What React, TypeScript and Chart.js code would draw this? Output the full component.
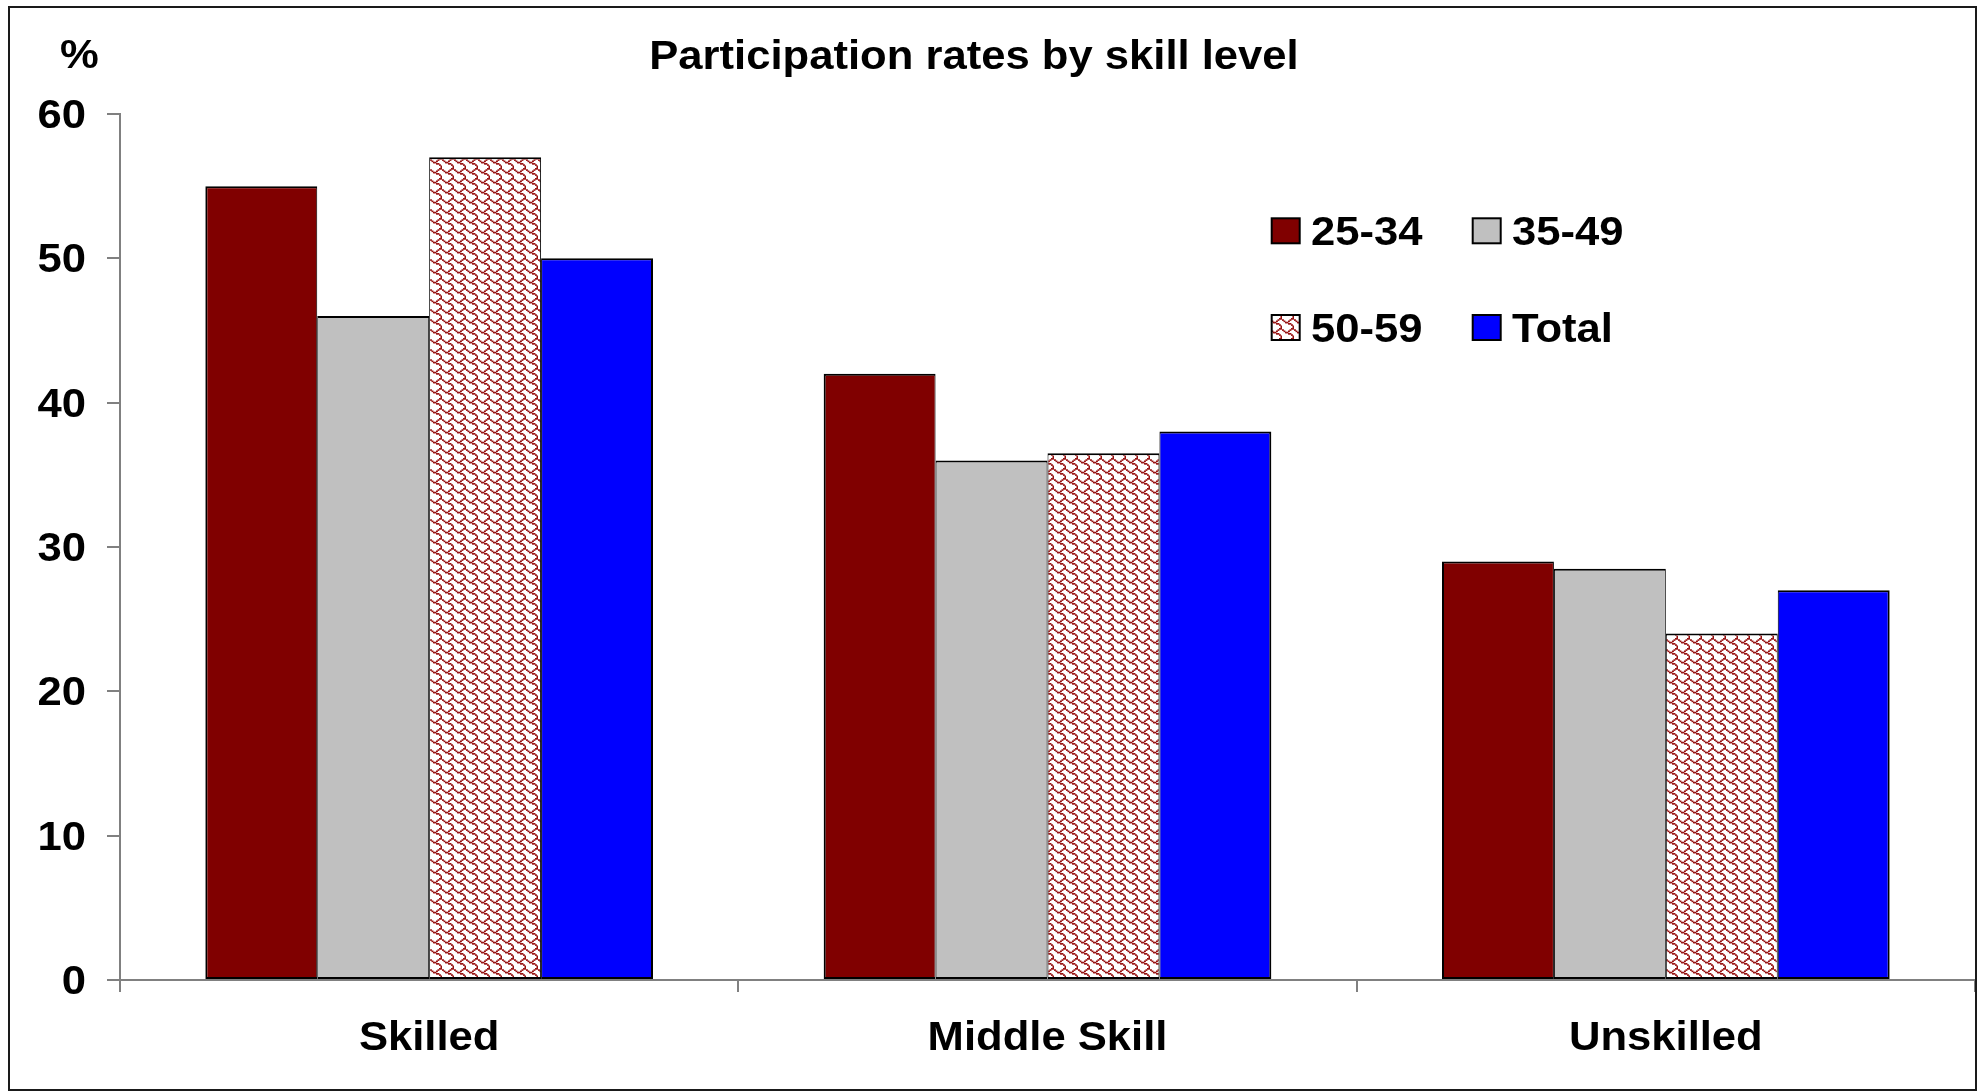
import React, { useEffect, useRef } from 'react';
import { Chart, registerables } from 'chart.js';

Chart.register(...registerables);

// ---- data ----
const categories = ['Skilled', 'Middle Skill', 'Unskilled'];
const seriesLabels = ['25-34', '35-49', '50-59', 'Total'];
const age25to34 = [55, 42, 29];
const age35to49 = [46, 36, 28.5];
const age50to59 = [57, 36.5, 24];
const totalAll = [50, 38, 27];
const yTickValues = [0, 10, 20, 30, 40, 50, 60];
const titleText = 'Participation rates by skill level';
const yUnitText = '%';

// ---- styles ----
const FONT = '"Liberation Sans", Arial, Helvetica, sans-serif';
const TEXT_FONT = `bold 40px ${FONT}`;
const TEXT_STRETCH = 1.09;
const SHINGLE_BITS = [0x03, 0x84, 0x48, 0x30, 0x0c, 0x02, 0x01, 0x01];

function makeShinglePattern(ctx: CanvasRenderingContext2D, color: string) {
  const sx = 1.5;
  const sy = 1.25;
  const c = document.createElement('canvas');
  c.width = 12;
  c.height = 10;
  const g = c.getContext('2d')!;
  g.fillStyle = '#ffffff';
  g.fillRect(0, 0, c.width, c.height);
  g.fillStyle = color;
  for (let y = 0; y < 8; y++) {
    for (let x = 0; x < 8; x++) {
      if (SHINGLE_BITS[y] & (0x80 >> x)) g.fillRect(x * sx, y * sy, sx + 0.4, sy + 0.4);
    }
  }
  return ctx.createPattern(c, 'repeat') as CanvasPattern;
}

function drawText(
  c: CanvasRenderingContext2D,
  text: string,
  x: number,
  y: number,
  align: CanvasTextAlign,
) {
  c.save();
  c.translate(x, y);
  c.scale(TEXT_STRETCH, 1);
  c.textAlign = align;
  c.textBaseline = 'alphabetic';
  c.fillText(text, 0, 0);
  c.restore();
}

export default function App() {
  const ref = useRef<HTMLCanvasElement>(null);

  useEffect(() => {
    const canvas = ref.current!;
    const ctx = canvas.getContext('2d')!;
    const pattern = makeShinglePattern(ctx, '#960f0f');

    const overlay = {
      id: 'overlay',
      afterDraw(chart: any) {
        const c = chart.ctx as CanvasRenderingContext2D;
        c.save();
        c.fillStyle = '#000';
        c.font = TEXT_FONT;
        // title and unit
        drawText(c, titleText, 964, 61, 'center');
        drawText(c, yUnitText, 69.5, 60, 'center');

        // axis tick labels, positioned by the chart's scales
        const xs = chart.scales.x;
        const ys = chart.scales.y;
        xs.ticks.forEach((_t: any, i: number) => {
          const px = xs.getPixelForTick(i);
          drawText(c, String(xs.getLabelForValue(xs.ticks[i].value)), px, 1042, 'center');
        });
        ys.ticks.forEach((t: any) => {
          const py = ys.getPixelForValue(t.value);
          drawText(c, String(t.value), ys.right - 13 - 21, py + 14, 'right');
        });

        // legend (2 x 2)
        const cols = [1261.7, 1462.7];
        const rows = [210.3, 307];
        chart.data.datasets.forEach((ds: any, i: number) => {
          const bx = cols[i % 2];
          const by = rows[Math.floor(i / 2)];
          c.fillStyle = ds.backgroundColor;
          c.fillRect(bx, by, 28, 25);
          c.lineWidth = 2;
          c.strokeStyle = '#000';
          c.strokeRect(bx, by, 28, 25);
          c.fillStyle = '#000';
          drawText(c, ds.label, bx + 39.3, by + 12.5 + 14, 'left');
        });
        c.restore();
      },
    };

    const common = { borderColor: '#000000', borderSkipped: false as const };

    const chart = new Chart(canvas, {
      type: 'bar',
      data: {
        labels: categories,
        datasets: [
          { label: seriesLabels[0], data: age25to34, backgroundColor: '#800000', borderWidth: { left: 2, right: 1, top: 2, bottom: 2 }, ...common },
          { label: seriesLabels[1], data: age35to49, backgroundColor: '#c0c0c0', borderWidth: { left: 1, right: 1, top: 2, bottom: 2 }, ...common },
          { label: seriesLabels[2], data: age50to59, backgroundColor: pattern as any, borderWidth: { left: 1, right: 1, top: 2, bottom: 2 }, ...common },
          { label: seriesLabels[3], data: totalAll, backgroundColor: '#0000ff', borderWidth: { left: 1, right: 2, top: 2, bottom: 2 }, ...common },
        ],
      },
      options: {
        responsive: false,
        animation: false,
        devicePixelRatio: 1,
        layout: { padding: { top: 106, left: 0, right: 0, bottom: 0 }, autoPadding: false },
        datasets: { bar: { categoryPercentage: 0.724, barPercentage: 1.0 } },
        plugins: {
          legend: { display: false },
          title: { display: false },
          tooltip: { enabled: false },
        },
        scales: {
          x: {
            offset: true,
            grid: {
              display: true,
              offset: true,
              drawOnChartArea: false,
              drawTicks: true,
              tickLength: 12,
              color: '#808080',
              lineWidth: 2,
            },
            border: { display: true, color: '#808080', width: 2 },
            ticks: { display: false, autoSkip: false, maxRotation: 0 },
            afterFit: (scale: any) => {
              scale.height = 109;
            },
          },
          y: {
            min: 0,
            max: 60,
            afterBuildTicks: (scale: any) => {
              scale.ticks = yTickValues.map((v) => ({ value: v }));
            },
            grid: {
              display: true,
              drawOnChartArea: false,
              drawTicks: true,
              tickLength: 13,
              color: '#808080',
              lineWidth: 2,
            },
            border: { display: true, color: '#808080', width: 2 },
            ticks: { display: false },
            afterFit: (scale: any) => {
              scale.width = 110;
            },
          },
        },
      },
      plugins: [overlay],
    } as any);

    return () => chart.destroy();
  }, []);

  return (
    <div
      style={{
        position: 'absolute',
        left: 8,
        top: 6,
        width: 1969,
        height: 1085,
        border: '2px solid #1a1a1a',
        boxSizing: 'border-box',
        background: '#fff',
      }}
    >
      <canvas
        ref={ref}
        width={1965}
        height={1081}
        style={{ position: 'absolute', left: 0, top: 0, width: 1965, height: 1081, display: 'block' }}
      />
    </div>
  );
}
